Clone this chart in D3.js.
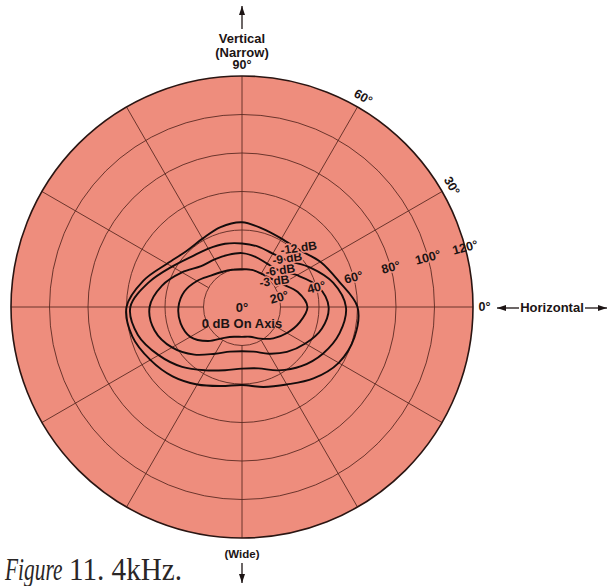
<!DOCTYPE html>
<html>
<head>
<meta charset="utf-8">
<script src="https://cdn.jsdelivr.net/npm/d3@7"></script>
<style>
  body { margin: 0; background: #ffffff; }
  svg { display: block; }
</style>
</head>
<body>
<svg id="chart" width="608" height="586"></svg>
<script>
// Off-axis rings (degrees) and roll spokes (degrees, counter-clockwise from horizontal)
const ringDegrees = [20, 40, 60, 80, 100, 120];
const ringLabels = ["20°", "40°", "60°", "80°", "100°", "120°"];
const spokeAngles = [0, 30, 60, 90, 120, 150, 180, 210, 240, 270, 300, 330];
const rollAngles = [90, 60, 30, 0];
const rollLabels = ["90°", "60°", "30°", "0°"];

// Contour directions (roll angle, degrees) shared by every level
const directions = [0, 15, 30, 45, 60, 75, 90, 105, 120, 135, 150, 165,
                    180, 195, 210, 225, 240, 255, 270, 285, 300, 315, 330, 345];
const levelNames = ["-3 dB", "-6 dB", "-9 dB", "-12 dB"];
// Off-axis angle (degrees) where the response falls to each level
const level3 =  [34, 30, 24, 21, 20, 20, 19.5, 20, 21, 23, 27, 31,
                 33, 33, 31, 25, 18.5, 16, 15.5, 16, 19, 23, 27, 31];
const level6 =  [45, 41, 33, 27, 26, 27, 28, 28, 28.5, 30, 36, 43,
                 48, 47, 42, 35, 28, 24, 23, 24, 28, 33, 38, 43];
const level9 =  [54, 49, 41, 34, 32, 32.5, 33, 34, 35, 37, 42, 50,
                 58, 56, 50, 44, 38, 34, 32, 33, 38, 43.5, 48.5, 52.5];
const level12 = [60, 52, 47, 42, 41, 42, 44, 43, 41, 41, 45, 53,
                 60, 59, 55, 51, 46.5, 42.5, 40.5, 43, 46.5, 52.5, 58, 60.5];
const levels = [level3, level6, level9, level12];
// Where each level label sits (roll angle)
const labelRoll = [40, 45, 48, 47];

const cx = 242, cy = 307;
const fill = "#ee8d7d";
const gridColor = "#5b2a22";
const ink = "#1c1414";

const svg = d3.select("#chart");
const r = d3.scaleLinear().domain([0, 120]).range([0, 231]);
const toRad = d => d * Math.PI / 180;
// screen position for (roll angle, off-axis angle)
const pos = (roll, off) => [cx + r(off) * Math.cos(toRad(roll)), cy - r(off) * Math.sin(toRad(roll))];

const g = svg.append("g");

// disc
g.append("circle").attr("cx", cx).attr("cy", cy).attr("r", r(120)).attr("fill", fill);

// off-axis rings
g.selectAll("circle.ring").data(ringDegrees.slice(0, -1)).join("circle")
  .attr("class", "ring")
  .attr("cx", cx).attr("cy", cy).attr("r", d => r(d))
  .attr("fill", "none").attr("stroke", gridColor).attr("stroke-width", 0.9);

// roll spokes from the 20° ring to the rim
g.selectAll("line.spoke").data(spokeAngles).join("line")
  .attr("class", "spoke")
  .attr("x1", d => pos(d, 20)[0]).attr("y1", d => pos(d, 20)[1])
  .attr("x2", d => pos(d, 120)[0]).attr("y2", d => pos(d, 120)[1])
  .attr("stroke", gridColor).attr("stroke-width", 0.9);

// rim
g.append("circle").attr("cx", cx).attr("cy", cy).attr("r", r(120))
  .attr("fill", "none").attr("stroke", "#2a1512").attr("stroke-width", 1.6);

// contour lines
const radial = d3.lineRadial()
  .angle(d => toRad(90 - d[0]))
  .radius(d => r(d[1]))
  .curve(d3.curveCatmullRomClosed.alpha(0.5));
g.append("g").attr("transform", `translate(${cx},${cy})`)
  .selectAll("path").data(levels).join("path")
  .attr("d", vals => radial(directions.map((dir, i) => [dir, vals[i]])))
  .attr("fill", "none").attr("stroke", "#140c0c").attr("stroke-width", 1.9)
  .attr("stroke-linejoin", "round");

const font = "'Liberation Sans', Arial, Helvetica, sans-serif";

// level labels, knocked out of the contour lines
g.selectAll("text.level").data(levelNames).join("text")
  .attr("class", "level")
  .attr("transform", (d, i) => {
    const p = pos(labelRoll[i], levels[i][directions.indexOf(45)]);
    return `translate(${p[0] + 2},${p[1] + 4}) rotate(-8)`;
  })
  .attr("text-anchor", "middle")
  .attr("font-family", font).attr("font-weight", "bold").attr("font-size", 12)
  .attr("fill", ink)
  .attr("stroke", fill).attr("stroke-width", 3).attr("paint-order", "stroke")
  .text(d => d);

// ring labels along the 15° direction
g.selectAll("text.ringlab").data(ringDegrees).join("text")
  .attr("class", "ringlab")
  .attr("transform", d => {
    const p = pos(15, d);
    return `translate(${p[0]},${p[1]}) rotate(-15)`;
  })
  .attr("dy", "0.35em")
  .attr("text-anchor", "middle")
  .attr("font-family", font).attr("font-weight", "bold").attr("font-size", 12.5)
  .attr("fill", ink)
  .attr("stroke", d => d === 120 ? "none" : fill).attr("stroke-width", 3).attr("paint-order", "stroke")
  .text((d, i) => ringLabels[i]);

// roll labels outside the rim
g.selectAll("text.roll").data(rollAngles).join("text")
  .attr("class", "roll")
  .attr("transform", d => {
    const p = pos(d, 126);
    const rot = (d === 0 || d === 90) ? 0 : 90 - d;
    return `translate(${p[0]},${p[1]}) rotate(${rot})`;
  })
  .attr("dy", "0.35em")
  .attr("text-anchor", "middle")
  .attr("font-family", font).attr("font-weight", "bold").attr("font-size", 12.5)
  .attr("fill", ink)
  .text((d, i) => rollLabels[i]);

// centre labels
g.append("text").attr("x", cx).attr("y", cy + 5).attr("text-anchor", "middle")
  .attr("font-family", font).attr("font-weight", "bold").attr("font-size", 13).attr("fill", ink)
  .text("0°");
g.append("text").attr("x", cx).attr("y", cy + 21).attr("text-anchor", "middle")
  .attr("font-family", font).attr("font-weight", "bold").attr("font-size", 13).attr("fill", ink)
  .text("0 dB On Axis");

// axis captions and arrows
const cap = (txt, x, y, size, anchor) => svg.append("text").attr("x", x).attr("y", y)
  .attr("text-anchor", anchor || "middle").attr("font-family", font).attr("font-weight", "bold")
  .attr("font-size", size).attr("fill", ink).text(txt);
cap("Vertical", cx, 43, 13);
cap("(Narrow)", cx, 56.5, 13);
cap("(Wide)", cx, 558, 11.5);
cap("Horizontal", 552, 312, 13);

const arrow = (x1, y1, x2, y2) => {
  svg.append("line").attr("x1", x1).attr("y1", y1).attr("x2", x2).attr("y2", y2)
    .attr("stroke", ink).attr("stroke-width", 1.3);
  const a = Math.atan2(y2 - y1, x2 - x1), L = 9, Wd = 3;
  const bx = x2 - L * Math.cos(a), by = y2 - L * Math.sin(a);
  svg.append("path")
    .attr("d", `M${x2},${y2}L${bx + Wd * Math.sin(a)},${by - Wd * Math.cos(a)}L${bx - Wd * Math.sin(a)},${by + Wd * Math.cos(a)}Z`)
    .attr("fill", ink);
};
arrow(cx, 29, cx, 6);
arrow(cx, 563, cx, 583);
arrow(519, 308, 497, 308);
arrow(585, 308, 607, 308);

// figure caption: a narrow serif, condensed horizontally
const serif = "'Liberation Serif', 'DejaVu Serif', serif";
svg.append("text").attr("transform", "translate(5,580) scale(0.69,1)")
  .attr("font-family", serif).attr("font-size", 31).attr("font-style", "italic")
  .attr("fill", "#2a2626")
  .text("Figure");
svg.append("text").attr("transform", "translate(69,580) scale(0.94,1)")
  .attr("font-family", serif).attr("font-size", 31)
  .attr("fill", "#2a2626")
  .text("11. 4kHz.");
</script>
</body>
</html>
